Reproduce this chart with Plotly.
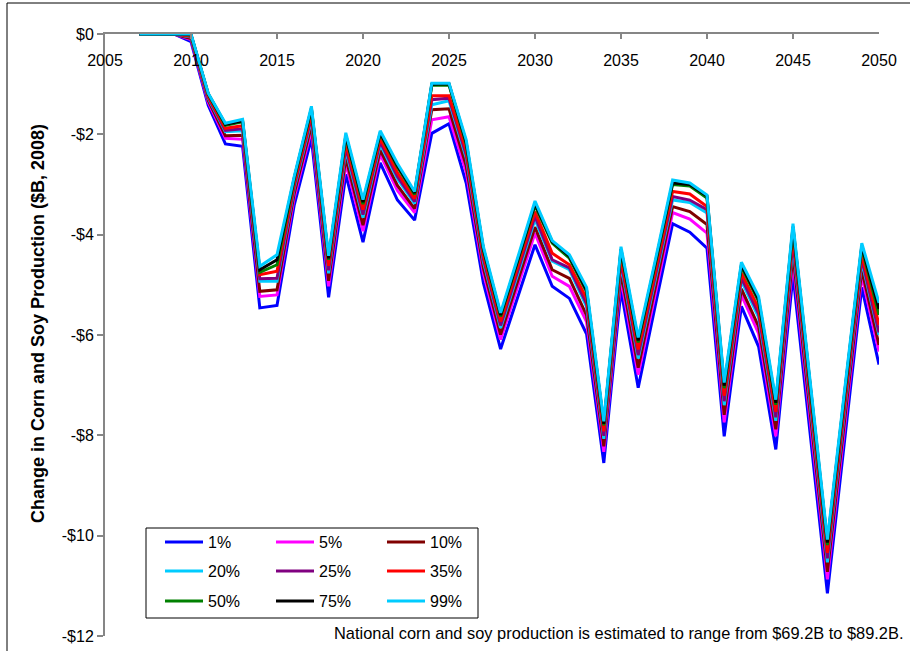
import plotly.graph_objects as go

# Simulation years
years = [2007, 2008, 2009, 2010, 2011, 2012, 2013, 2014, 2015, 2016, 2017,
         2018, 2019, 2020, 2021, 2022, 2023, 2024, 2025, 2026, 2027, 2028,
         2029, 2030, 2031, 2032, 2033, 2034, 2035, 2036, 2037, 2038, 2039,
         2040, 2041, 2042, 2043, 2044, 2045, 2046, 2047, 2048, 2049, 2050]

# Change in corn and soy production ($B, 2008) by percentile
p1 = [0, 0, 0, -0.15, -1.42, -2.19, -2.24, -5.46, -5.41, -3.41, -2.08,
      -5.25, -2.80, -4.15, -2.57, -3.31, -3.71, -1.98, -1.79, -2.97, -4.96, -6.28,
      -5.25, -4.20, -5.03, -5.27, -5.98, -8.55, -5.10, -7.05, -5.40, -3.78, -3.95,
      -4.27, -8.02, -5.43, -6.23, -8.28, -4.80, -7.95, -11.15, -8.10, -5.05, -6.59]
p5 = [0, 0, 0, -0.11, -1.36, -2.08, -2.10, -5.23, -5.20, -3.26, -1.91,
      -5.03, -2.58, -3.93, -2.40, -3.12, -3.56, -1.71, -1.65, -2.75, -4.77, -6.09,
      -5.04, -3.97, -4.83, -5.03, -5.74, -8.33, -4.88, -6.79, -5.17, -3.56, -3.69,
      -3.97, -7.74, -5.20, -5.97, -8.02, -4.53, -7.69, -10.87, -7.84, -4.82, -6.33]
p10 = [0, 0, 0, -0.09, -1.32, -2.03, -2.02, -5.13, -5.10, -3.18, -1.82,
       -4.92, -2.47, -3.81, -2.31, -3.02, -3.48, -1.51, -1.49, -2.63, -4.67, -5.99,
       -4.93, -3.85, -4.70, -4.87, -5.61, -8.22, -4.76, -6.65, -5.04, -3.44, -3.54,
       -3.80, -7.59, -5.08, -5.83, -7.88, -4.39, -7.55, -10.72, -7.70, -4.70, -6.20]
p20 = [0, 0, 0, -0.06, -1.28, -1.95, -1.93, -4.93, -4.93, -3.08, -1.71,
       -4.77, -2.32, -3.66, -2.20, -2.89, -3.38, -1.41, -1.33, -2.47, -4.54, -5.86,
       -4.79, -3.70, -4.53, -4.70, -5.44, -8.07, -4.60, -6.47, -4.88, -3.31, -3.36,
       -3.57, -7.40, -4.92, -5.65, -7.71, -4.21, -7.37, -10.53, -7.52, -4.54, -6.00]
p25 = [0, 0, 0, -0.05, -1.26, -1.92, -1.89, -4.88, -4.87, -3.04, -1.66,
       -4.71, -2.26, -3.60, -2.15, -2.84, -3.34, -1.31, -1.28, -2.41, -4.49, -5.81,
       -4.73, -3.63, -4.50, -4.66, -5.38, -8.01, -4.54, -6.40, -4.82, -3.24, -3.31,
       -3.50, -7.32, -4.86, -5.58, -7.64, -4.14, -7.30, -10.45, -7.45, -4.48, -5.95]
p35 = [0, 0, 0, -0.04, -1.24, -1.88, -1.83, -4.80, -4.73, -2.98, -1.59,
       -4.62, -2.17, -3.50, -2.08, -2.76, -3.28, -1.23, -1.23, -2.32, -4.41, -5.73,
       -4.64, -3.54, -4.37, -4.60, -5.27, -7.92, -4.45, -6.29, -4.72, -3.14, -3.19,
       -3.44, -7.21, -4.76, -5.47, -7.53, -4.02, -7.19, -10.34, -7.34, -4.38, -5.80]
p50 = [0, 0, 0, -0.02, -1.20, -1.82, -1.75, -4.75, -4.60, -2.90, -1.50,
       -4.50, -2.05, -3.39, -1.99, -2.65, -3.20, -1.02, -1.02, -2.20, -4.31, -5.63,
       -4.53, -3.42, -4.17, -4.47, -5.14, -7.80, -4.33, -6.15, -4.59, -3.00, -3.03,
       -3.27, -7.06, -4.64, -5.33, -7.39, -3.88, -7.05, -10.19, -7.20, -4.26, -5.60]
p75 = [0, 0, 0, -0.01, -1.19, -1.80, -1.73, -4.70, -4.50, -2.87, -1.48,
       -4.47, -2.02, -3.35, -1.97, -2.62, -3.17, -1.00, -0.99, -2.16, -4.28, -5.60,
       -4.50, -3.38, -4.14, -4.43, -5.11, -7.77, -4.29, -6.11, -4.55, -2.97, -3.00,
       -3.23, -7.01, -4.60, -5.29, -7.35, -3.84, -7.01, -10.14, -7.16, -4.22, -5.48]
p99 = [0, 0, 0, 0, -1.18, -1.78, -1.70, -4.63, -4.40, -2.84, -1.44,
       -4.42, -1.97, -3.30, -1.93, -2.58, -3.14, -0.98, -0.98, -2.11, -4.24, -5.56,
       -4.45, -3.33, -4.12, -4.40, -5.05, -7.72, -4.24, -6.05, -4.50, -2.91, -2.97,
       -3.21, -6.95, -4.55, -5.23, -7.29, -3.78, -6.95, -10.08, -7.10, -4.17, -5.36]

series_names = ["1%", "5%", "10%", "20%", "25%", "35%", "50%", "75%", "99%"]
series_values = [p1, p5, p10, p20, p25, p35, p50, p75, p99]
series_colors = ["#0000FF", "#FF00FF", "#800000", "#00CCFF", "#800080",
                 "#FF0000", "#008000", "#000000", "#00CCFF"]
# three legend rows of three entries each
series_legend = ["legend", "legend", "legend",
                 "legend2", "legend2", "legend2",
                 "legend3", "legend3", "legend3"]

x_ticks = [2005, 2010, 2015, 2020, 2025, 2030, 2035, 2040, 2045, 2050]
y_ticks = [0, -2, -4, -6, -8, -10, -12]
y_tick_labels = ["$0", "-$2", "-$4", "-$6", "-$8", "-$10", "-$12"]

FONT = "Liberation Sans, Arial, sans-serif"
AXIS_GRAY = "#868686"

fig = go.Figure()
for name, vals, color, leg in zip(series_names, series_values, series_colors, series_legend):
    fig.add_trace(go.Scatter(
        x=years, y=vals, name=name, mode="lines",
        line=dict(color=color, width=3),
        legend=leg,
    ))

# empty trace that registers the label-only year axis
fig.add_trace(go.Scatter(x=[], y=[], xaxis="x2", yaxis="y",
                         showlegend=False, hoverinfo="skip"))

W, H = 910, 651
ML, MR, MT, MB = 105, 31, 34, 15
PW, PH = W - ML - MR, H - MT - MB


def px_x(px):
    return (px - ML) / PW


def px_y(py):
    return (H - MB - py) / PH


legend_common = dict(
    orientation="h", xanchor="left", yanchor="middle",
    bgcolor="rgba(0,0,0,0)", borderwidth=0,
    font=dict(family=FONT, size=16, color="#000000"),
    entrywidth=58, itemwidth=38, traceorder="normal",
)

fig.update_layout(
    width=W, height=H,
    margin=dict(l=ML, r=MR, t=MT, b=MB, autoexpand=False),
    paper_bgcolor="#FFFFFF", plot_bgcolor="#FFFFFF",
    font=dict(family=FONT, size=16, color="#000000"),
    showlegend=True,
    legend=dict(x=px_x(160), y=px_y(542), **legend_common),
    legend2=dict(x=px_x(160), y=px_y(571), **legend_common),
    legend3=dict(x=px_x(160), y=px_y(601), **legend_common),
    # year axis: line and ticks along the $0 edge
    xaxis=dict(
        range=[2005, 2050], side="top", tickvals=x_ticks,
        ticks="inside", ticklen=5, tickcolor=AXIS_GRAY, tickwidth=2,
        showticklabels=False,
        showline=True, linecolor=AXIS_GRAY, linewidth=2,
        showgrid=False, zeroline=False,
    ),
    # year labels sit just beneath that edge
    xaxis2=dict(
        range=[2005, 2050], overlaying="x", anchor="free", side="top",
        position=px_y(69), tickvals=x_ticks, ticks="",
        showline=False, showgrid=False, zeroline=False,
        tickfont=dict(family=FONT, size=16, color="#000000"),
    ),
    yaxis=dict(
        range=[-12, 0], tickvals=y_ticks, ticktext=y_tick_labels,
        ticks="outside", ticklen=6, tickcolor=AXIS_GRAY, tickwidth=2,
        showline=True, linecolor=AXIS_GRAY, linewidth=2,
        showgrid=False, zeroline=False,
        tickfont=dict(family=FONT, size=16, color="#000000"),
    ),
    shapes=[
        # legend frame
        dict(type="rect", xref="paper", yref="paper",
             x0=px_x(146), x1=px_x(478), y0=px_y(618), y1=px_y(528),
             line=dict(color="#000000", width=1), layer="above"),
        # chart-area border (top and left edges)
        dict(type="line", xref="paper", yref="paper",
             x0=px_x(7), x1=px_x(915), y0=px_y(3), y1=px_y(3),
             line=dict(color="#000000", width=1)),
        dict(type="line", xref="paper", yref="paper",
             x0=px_x(7), x1=px_x(7), y0=px_y(3), y1=px_y(660),
             line=dict(color="#000000", width=1)),
    ],
    annotations=[
        dict(text="<b>Change in Corn and Soy Production ($B, 2008)</b>",
             xref="paper", yref="paper", x=px_x(38), y=px_y(324),
             xanchor="center", yanchor="middle", textangle=-90,
             showarrow=False, font=dict(family=FONT, size=18, color="#000000")),
        dict(text="National corn and soy production is estimated to range from $69.2B to $89.2B.",
             xref="paper", yref="paper", x=px_x(905), y=px_y(633),
             xanchor="right", yanchor="middle",
             showarrow=False, font=dict(family=FONT, size=16.4, color="#000000")),
    ],
)

fig.write_html("out.html")
